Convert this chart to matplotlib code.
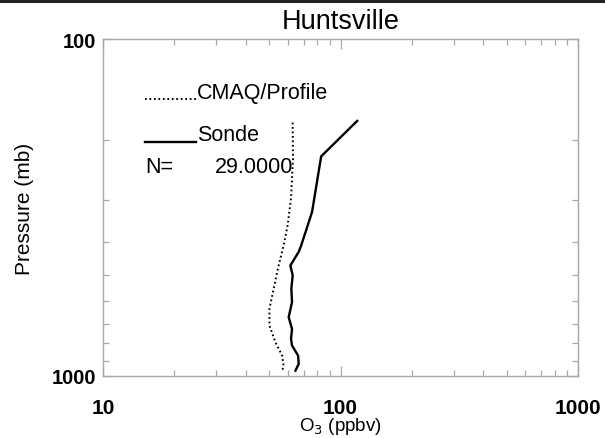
import matplotlib
matplotlib.use("Agg")
import matplotlib.pyplot as plt
from matplotlib.ticker import FixedLocator, NullFormatter, FixedFormatter, LogLocator
from matplotlib.lines import Line2D

plt.rcParams['font.family'] = ['Liberation Sans', 'DejaVu Sans']

title = "Huntsville"
xlabel = "O$_3$ (ppbv)"
ylabel = "Pressure (mb)"
x_ticks = [10, 100, 1000]
x_ticklabels = ["10", "100", "1000"]
y_ticks = [100, 1000]
y_ticklabels = ["100", "1000"]

# Sonde profile (ppbv, mb)
sonde_o3 = [117.6, 82.9, 75.9, 68.3, 66.7, 61.5, 62.9, 62.1, 62.5, 60.5, 62.5, 61.9, 62.5, 66.3, 66.7, 64.6]
sonde_p = [175, 223, 326, 410, 428, 470, 503, 551, 604, 669, 725, 776, 812, 870, 921, 964]

# CMAQ profile (ppbv, mb)
cmaq_o3 = [62.9, 63.1, 61.9, 59.9, 57.6, 54.9, 52.3, 50.2, 50.2, 53.2, 56.8, 57.6, 56.8]
cmaq_p = [177, 226, 297, 357, 410, 470, 551, 632, 708, 794, 870, 932, 964]

legend_cmaq = "CMAQ/Profile"
legend_sonde = "Sonde"
n_label = "N="
n_value = "29.0000"

W, H = 605, 439
fig = plt.figure(figsize=(W / 100, H / 100), dpi=100)
ax = fig.add_axes([103 / W, 1 - 377 / H, (578 - 103) / W, (377 - 40) / H])

ax.plot(cmaq_o3, cmaq_p, color='black', lw=1.4, linestyle=(0, (0.9, 1.4)))
ax.plot(sonde_o3, sonde_p, color='black', lw=1.7, solid_joinstyle='round')

ax.set_xscale('log')
ax.set_yscale('log')
ax.set_xlim(10, 1000)
ax.set_ylim(1000, 100)

ax.xaxis.set_major_locator(FixedLocator(x_ticks))
ax.xaxis.set_major_formatter(FixedFormatter(x_ticklabels))
ax.xaxis.set_minor_locator(LogLocator(base=10, subs=range(2, 10)))
ax.xaxis.set_minor_formatter(NullFormatter())
ax.yaxis.set_major_locator(FixedLocator(y_ticks))
ax.yaxis.set_major_formatter(FixedFormatter(y_ticklabels))
ax.yaxis.set_minor_locator(LogLocator(base=10, subs=range(2, 10)))
ax.yaxis.set_minor_formatter(NullFormatter())

gray = '#a8a8a8'
for s in ax.spines.values():
    s.set_color(gray)
    s.set_linewidth(1.0)
ax.tick_params(which='both', direction='in', top=True, right=True, color=gray, width=0.9)
ax.tick_params(which='major', length=7)
ax.tick_params(which='minor', length=4)
ax.tick_params(axis='x', which='major', pad=16, labelsize=15)
ax.tick_params(axis='y', which='major', pad=5, labelsize=14.5)
for lab in ax.get_xticklabels() + ax.get_yticklabels():
    lab.set_fontweight('bold')

ax.set_title(title, fontsize=19.5, pad=8)
ax.set_xlabel(xlabel, fontsize=13.5, va='bottom')
ax.xaxis.set_label_coords(0.5, (377 - 437.5) / 337)
ax.set_ylabel(ylabel, fontsize=15, labelpad=13)

# legend drawn inside axes
ax.plot([0.088, 0.196], [0.822, 0.822], transform=ax.transAxes, color='black',
        lw=1.4, linestyle=(0, (0.9, 1.4)))
ax.text(0.198, 0.826, legend_cmaq, transform=ax.transAxes, fontsize=15.5, va='baseline', ha='left')
ax.plot([0.088, 0.196], [0.6935, 0.6935], transform=ax.transAxes, color='black', lw=1.7)
ax.text(0.198, 0.700, legend_sonde, transform=ax.transAxes, fontsize=15.5, va='baseline', ha='left')
ax.text(0.088, 0.604, n_label, transform=ax.transAxes, fontsize=15.5, va='baseline', ha='left')
ax.text(0.400, 0.604, n_value, transform=ax.transAxes, fontsize=15.5, va='baseline', ha='right')

# top border line
fig.add_artist(Line2D([0, 1], [1 - 1.5 / H, 1 - 1.5 / H], transform=fig.transFigure,
                      color='#222222', lw=2.2))

fig.savefig("out.png", dpi=100)
